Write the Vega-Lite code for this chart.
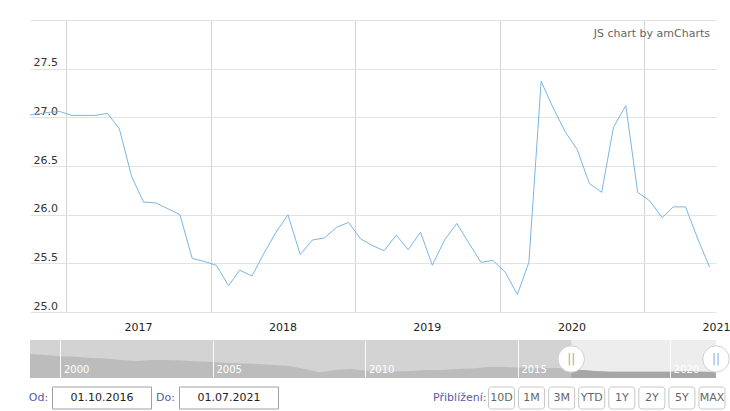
{
  "$schema": "https://vega.github.io/schema/vega-lite/v6.json",
  "padding": {"left": 5, "top": 20, "right": 0, "bottom": 0},
  "background": "white",
  "spacing": 8,
  "config": {"view": {"stroke": null}, "font": "DejaVu Sans"},
  "datasets": {
    "main": [
      {"date": "2016-09-15", "value": 27.02},
      {"date": "2016-10-15", "value": 27.03},
      {"date": "2016-11-15", "value": 27.05},
      {"date": "2016-12-15", "value": 27.06},
      {"date": "2017-01-15", "value": 27.02},
      {"date": "2017-02-15", "value": 27.02},
      {"date": "2017-03-15", "value": 27.02},
      {"date": "2017-04-15", "value": 27.04},
      {"date": "2017-05-15", "value": 26.88},
      {"date": "2017-06-15", "value": 26.39},
      {"date": "2017-07-15", "value": 26.13},
      {"date": "2017-08-15", "value": 26.12},
      {"date": "2017-09-15", "value": 26.06},
      {"date": "2017-10-15", "value": 26.0},
      {"date": "2017-11-15", "value": 25.55},
      {"date": "2017-12-15", "value": 25.52},
      {"date": "2018-01-15", "value": 25.48},
      {"date": "2018-02-15", "value": 25.27},
      {"date": "2018-03-15", "value": 25.43},
      {"date": "2018-04-15", "value": 25.37},
      {"date": "2018-05-15", "value": 25.6},
      {"date": "2018-06-15", "value": 25.82},
      {"date": "2018-07-15", "value": 26.0},
      {"date": "2018-08-15", "value": 25.59},
      {"date": "2018-09-15", "value": 25.74},
      {"date": "2018-10-15", "value": 25.76},
      {"date": "2018-11-15", "value": 25.87},
      {"date": "2018-12-15", "value": 25.92},
      {"date": "2019-01-15", "value": 25.75},
      {"date": "2019-02-15", "value": 25.68},
      {"date": "2019-03-15", "value": 25.63},
      {"date": "2019-04-15", "value": 25.79},
      {"date": "2019-05-15", "value": 25.64},
      {"date": "2019-06-15", "value": 25.82},
      {"date": "2019-07-15", "value": 25.48},
      {"date": "2019-08-15", "value": 25.74},
      {"date": "2019-09-15", "value": 25.91},
      {"date": "2019-10-15", "value": 25.71},
      {"date": "2019-11-15", "value": 25.51},
      {"date": "2019-12-15", "value": 25.53},
      {"date": "2020-01-15", "value": 25.41},
      {"date": "2020-02-15", "value": 25.18},
      {"date": "2020-03-15", "value": 25.51},
      {"date": "2020-04-15", "value": 27.37},
      {"date": "2020-05-15", "value": 27.1},
      {"date": "2020-06-15", "value": 26.85},
      {"date": "2020-07-15", "value": 26.67},
      {"date": "2020-08-15", "value": 26.32},
      {"date": "2020-09-15", "value": 26.23},
      {"date": "2020-10-15", "value": 26.9},
      {"date": "2020-11-15", "value": 27.12},
      {"date": "2020-12-15", "value": 26.23},
      {"date": "2021-01-15", "value": 26.14},
      {"date": "2021-02-15", "value": 25.97},
      {"date": "2021-03-15", "value": 26.08},
      {"date": "2021-04-15", "value": 26.08},
      {"date": "2021-05-15", "value": 25.76},
      {"date": "2021-06-15", "value": 25.46}
    ],
    "nav": [
      {"date": "1999-01-01", "value": 38.0},
      {"date": "1999-07-01", "value": 37.2},
      {"date": "2000-01-01", "value": 36.1},
      {"date": "2000-07-01", "value": 35.7},
      {"date": "2001-01-01", "value": 34.8},
      {"date": "2001-07-01", "value": 34.4},
      {"date": "2002-01-01", "value": 33.2},
      {"date": "2002-07-01", "value": 32.4},
      {"date": "2003-01-01", "value": 33.2},
      {"date": "2003-07-01", "value": 33.2},
      {"date": "2004-01-01", "value": 32.8},
      {"date": "2004-07-01", "value": 32.0},
      {"date": "2005-01-01", "value": 31.6},
      {"date": "2005-07-01", "value": 30.8},
      {"date": "2006-01-01", "value": 30.4},
      {"date": "2006-07-01", "value": 30.0},
      {"date": "2007-01-01", "value": 29.3},
      {"date": "2007-07-01", "value": 28.5},
      {"date": "2008-01-01", "value": 26.1},
      {"date": "2008-07-01", "value": 23.3},
      {"date": "2009-01-01", "value": 25.3},
      {"date": "2009-07-01", "value": 26.1},
      {"date": "2010-01-01", "value": 24.9},
      {"date": "2010-07-01", "value": 24.5},
      {"date": "2011-01-01", "value": 24.1},
      {"date": "2011-07-01", "value": 24.5},
      {"date": "2012-01-01", "value": 25.3},
      {"date": "2012-07-01", "value": 25.3},
      {"date": "2013-01-01", "value": 26.1},
      {"date": "2013-07-01", "value": 26.5},
      {"date": "2014-01-01", "value": 27.7},
      {"date": "2014-07-01", "value": 27.7},
      {"date": "2015-01-01", "value": 27.3},
      {"date": "2015-07-01", "value": 26.9},
      {"date": "2016-01-01", "value": 26.9},
      {"date": "2016-07-01", "value": 26.9},
      {"date": "2016-10-01", "value": 26.5},
      {"date": "2017-01-01", "value": 25.5},
      {"date": "2017-07-01", "value": 24.5},
      {"date": "2018-01-01", "value": 24.0},
      {"date": "2018-07-01", "value": 24.0},
      {"date": "2019-01-01", "value": 24.0},
      {"date": "2019-07-01", "value": 24.0},
      {"date": "2020-01-01", "value": 24.0},
      {"date": "2020-07-01", "value": 24.5},
      {"date": "2021-01-01", "value": 24.0},
      {"date": "2021-07-01", "value": 23.7}
    ]
  },
  "vconcat": [
    {
      "width": 686,
      "height": 292,
      "data": {"name": "main"},
      "title": {"text": "JS chart by amCharts", "anchor": "end", "orient": "top", "frame": "group", "offset": -19, "dx": -6, "fontSize": 11, "fontWeight": "normal", "color": "#666666", "font": "DejaVu Sans"},
      "layer": [
        {
          "mark": {"type": "line", "color": "#7ab6e6", "strokeWidth": 1, "clip": true},
          "encoding": {
            "x": {
              "field": "date", "type": "temporal",
              "scale": {"type": "utc", "domain": [{"year": 2016, "month": 10, "date": 1, "utc": true}, {"year": 2021, "month": 7, "date": 1, "utc": true}]},
              "axis": {
                "values": [
                  {"year": 2017, "month": 7, "date": 1, "utc": true},
                  {"year": 2018, "month": 7, "date": 1, "utc": true},
                  {"year": 2019, "month": 7, "date": 1, "utc": true},
                  {"year": 2020, "month": 7, "date": 1, "utc": true},
                  {"year": 2021, "month": 7, "date": 1, "utc": true}
                ],
                "format": "%Y", "grid": false, "ticks": false, "tickSize": 0, "domain": false,
                "labelPadding": 9, "labelFlush": false, "labelFont": "DejaVu Sans", "labelFontSize": 11, "labelColor": "#222222", "title": null
              }
            },
            "y": {
              "field": "value", "type": "quantitative",
              "scale": {"domain": [25, 28], "nice": false, "zero": false},
              "axis": {
                "values": [25, 25.5, 26, 26.5, 27, 27.5, 28],
                "labelExpr": "datum.value >= 28 ? '' : format(datum.value, '.1f')",
                "labelAlign": "left", "labelBaseline": "bottom", "labelPadding": -3, "labelOffset": -1,
                "ticks": false, "tickSize": 0, "domain": false, "grid": true, "gridColor": "#e2e2e2",
                "labelColor": "#333333", "labelFont": "DejaVu Sans", "labelFontSize": 11, "title": null
              }
            }
          }
        },
        {
          "mark": {"type": "rule", "opacity": 0},
          "encoding": {
            "x": {
              "field": "date", "type": "temporal",
              "axis": {
                "orient": "top",
                "values": [
                  {"year": 2017, "month": 1, "date": 1, "utc": true},
                  {"year": 2018, "month": 1, "date": 1, "utc": true},
                  {"year": 2019, "month": 1, "date": 1, "utc": true},
                  {"year": 2020, "month": 1, "date": 1, "utc": true},
                  {"year": 2021, "month": 1, "date": 1, "utc": true}
                ],
                "grid": true, "gridColor": "#d4d4d4", "labels": false, "ticks": false, "domain": false, "title": null
              }
            }
          }
        }
      ],
      "resolve": {"axis": {"x": "independent"}}
    },
    {
      "width": 686,
      "height": 38,
      "view": {"fill": "#d3d3d3", "stroke": null},
      "layer": [
        {
          "data": {"values": [{"start": "2016-10-01", "end": "2021-07-01"}]},
          "mark": {"type": "rect", "color": "#ededed"},
          "encoding": {
            "x": {
              "field": "start", "type": "temporal",
              "scale": {"type": "utc", "domain": [{"year": 1999, "month": 1, "date": 1, "utc": true}, {"year": 2021, "month": 7, "date": 1, "utc": true}]},
              "axis": {
                "values": [
                  {"year": 2000, "month": 1, "date": 1, "utc": true},
                  {"year": 2005, "month": 1, "date": 1, "utc": true},
                  {"year": 2010, "month": 1, "date": 1, "utc": true},
                  {"year": 2015, "month": 1, "date": 1, "utc": true},
                  {"year": 2020, "month": 1, "date": 1, "utc": true}
                ],
                "format": "%Y", "grid": true, "gridColor": "#ffffff", "gridOpacity": 0.9,
                "labelAlign": "left", "labelBaseline": "bottom", "labelPadding": -4, "labelOffset": 3,
                "labelColor": "#ffffff", "labelFontSize": 10, "labelFont": "DejaVu Sans", "labelFlush": false,
                "ticks": false, "tickSize": 0, "domain": false, "title": null, "zindex": 1
              }
            },
            "x2": {"field": "end"}
          }
        },
        {
          "data": {"name": "nav"},
          "mark": {"type": "area", "color": "#bcbcbc", "clip": true},
          "encoding": {
            "x": {"field": "date", "type": "temporal"},
            "y": {
              "field": "value", "type": "quantitative",
              "scale": {"domain": [19, 49], "nice": false, "zero": false},
              "axis": {"labels": false, "ticks": false, "domain": false, "grid": false, "title": null, "minExtent": 25, "maxExtent": 25}
            }
          }
        },
        {
          "data": {"name": "nav"},
          "transform": [{"filter": {"field": "date", "gte": {"year": 2016, "month": 10, "date": 1, "utc": true}}}],
          "mark": {"type": "area", "color": "#a6a6a6", "clip": true},
          "encoding": {
            "x": {"field": "date", "type": "temporal"},
            "y": {"field": "value", "type": "quantitative"}
          }
        },
        {
          "data": {"values": [{"pos": "2016-10-01"}, {"pos": "2021-07-01"}]},
          "mark": {"type": "point", "shape": "circle", "size": 700, "filled": true, "fill": "#ffffff", "stroke": "#d0d0d0", "strokeWidth": 1, "opacity": 1},
          "encoding": {"x": {"field": "pos", "type": "temporal"}}
        },
        {
          "data": {"values": [{"pos": "2016-10-01"}, {"pos": "2021-07-01"}]},
          "mark": {"type": "text", "text": "||", "fontSize": 12, "color": "#aaaaaa", "font": "DejaVu Sans"},
          "encoding": {"x": {"field": "pos", "type": "temporal"}}
        }
      ]
    },
    {
      "hconcat": [
        {
          "width": 254,
          "height": 22,
          "data": {"values": [
            {"item": "Od:", "kind": "label"},
            {"item": "01.10.2016", "kind": "box"},
            {"item": "Do:", "kind": "label"},
            {"item": "01.07.2021", "kind": "box"}
          ]},
          "layer": [
            {
              "transform": [{"filter": "datum.kind === 'box'"}],
              "mark": {"type": "rect", "width": 99, "fill": "#ffffff", "stroke": "#a0a0a0", "strokeWidth": 1},
              "encoding": {"x": {"field": "item", "type": "nominal", "scale": {"type": "point", "domain": ["Od:", "01.10.2016", "Do:", "01.07.2021"], "padding": 0.5, "align": 0.134}, "axis": null}}
            },
            {
              "transform": [{"filter": "datum.kind === 'box'"}],
              "mark": {"type": "text", "fontSize": 11, "font": "DejaVu Sans", "color": "#222222"},
              "encoding": {"x": {"field": "item", "type": "nominal", "axis": null}, "text": {"field": "item"}}
            },
            {
              "transform": [{"filter": "datum.kind === 'label'"}],
              "mark": {"type": "text", "fontSize": 11, "font": "DejaVu Sans", "color": "#5a5aa8"},
              "encoding": {"x": {"field": "item", "type": "nominal", "axis": null}, "text": {"field": "item"}}
            }
          ]
        },
        {
          "width": 270.6,
          "height": 22,
          "data": {"values": [
            {"item": "Přiblížení:", "kind": "label"},
            {"item": "10D", "kind": "button"},
            {"item": "1M", "kind": "button"},
            {"item": "3M", "kind": "button"},
            {"item": "YTD", "kind": "button"},
            {"item": "1Y", "kind": "button"},
            {"item": "2Y", "kind": "button"},
            {"item": "5Y", "kind": "button"},
            {"item": "MAX", "kind": "button"}
          ]},
          "layer": [
            {
              "transform": [{"filter": "datum.kind === 'button'"}],
              "mark": {"type": "rect", "width": 26, "fill": "#ffffff", "stroke": "#c8c8c8", "strokeWidth": 1, "cornerRadius": 3},
              "encoding": {"x": {"field": "item", "type": "nominal", "scale": {"type": "band", "domain": ["Přiblížení:", "10D", "1M", "3M", "YTD", "1Y", "2Y", "5Y", "MAX"], "paddingInner": 0, "paddingOuter": 0}, "axis": null}}
            },
            {
              "transform": [{"filter": "datum.kind === 'button'"}],
              "mark": {"type": "text", "fontSize": 11, "font": "DejaVu Sans", "color": "#666666"},
              "encoding": {"x": {"field": "item", "type": "nominal", "axis": null}, "text": {"field": "item"}}
            },
            {
              "transform": [{"filter": "datum.kind === 'label'"}],
              "mark": {"type": "text", "fontSize": 11, "font": "DejaVu Sans", "color": "#5a5aa8", "align": "right"},
              "encoding": {"x": {"field": "item", "type": "nominal", "bandPosition": 1, "axis": null}, "text": {"field": "item"}}
            }
          ]
        }
      ],
      "spacing": 172.4,
      "bounds": "flush"
    }
  ]
}
